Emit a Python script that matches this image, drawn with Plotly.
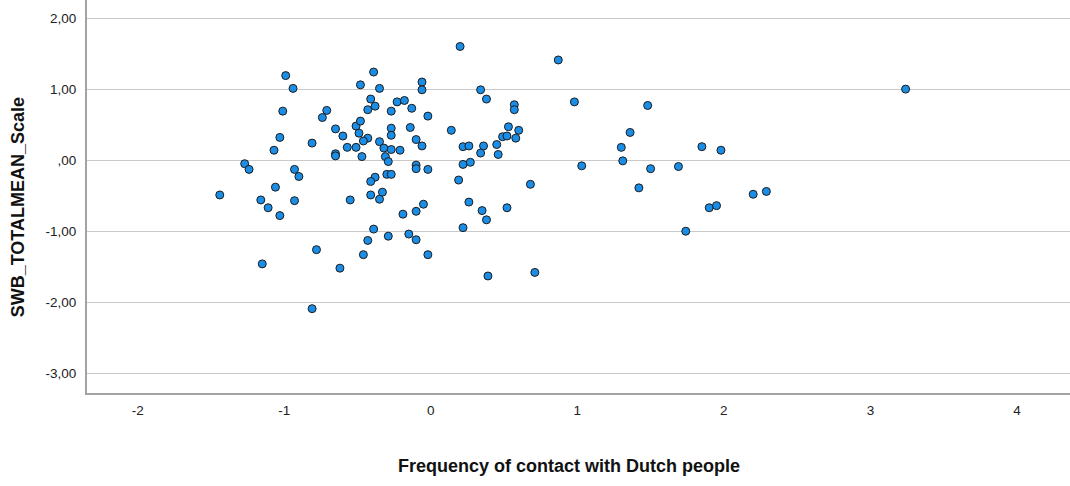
import plotly.graph_objects as go

# Standardised contact frequency (x) vs subjective well-being mean score (y)
contact_freq = [
    -0.99, -0.94, -1.01, -0.71, -0.74, -0.65, -0.60, -0.51, -1.03, -0.81,
    -1.07, -0.57, -0.51, -0.65, -0.65, -1.27, -1.24, -0.93, -0.90, -1.06,
    -1.44, -1.16, -1.11, -1.03, -0.93, -0.55, -0.78, -1.15, -0.62, -0.81,
    -0.39, -0.48, -0.35, -0.06, -0.06, -0.41, -0.38, -0.43, -0.23, -0.18,
    -0.27, -0.13, -0.02, -0.48, -0.27, -0.27, -0.14, 0.14, -0.49, -0.43,
    -0.46, -0.10, -0.06, -0.35, -0.32, -0.27, -0.21, -0.47, -0.31, 0.22,
    0.26, -0.29, -0.10, -0.10, -0.02, 0.22, 0.27, -0.38, -0.41, -0.30,
    -0.27, 0.19, -0.41, -0.33, -0.35, -0.05, -0.10, -0.19, 0.26, -0.39,
    -0.29, -0.15, -0.10, -0.43, 0.22, -0.46, -0.02,
    0.20, 0.87, 0.34, 0.38, 0.57, 0.57, 0.98, 0.53, 0.60, 0.49,
    0.52, 0.58, 0.45, 0.36, 0.34, 0.46, 1.03, 0.68, 0.35, 0.38,
    0.52, 0.39, 0.71, 1.48, 1.36, 1.30, 1.85, 1.98, 1.31, 1.50,
    1.69, 1.42, 1.90, 1.95, 1.74, 2.20, 2.29, 3.24,
]
swb_mean = [
    1.19, 1.01, 0.69, 0.70, 0.60, 0.44, 0.34, 0.48, 0.32, 0.24,
    0.14, 0.18, 0.18, 0.09, 0.06, -0.05, -0.13, -0.13, -0.23, -0.38,
    -0.49, -0.56, -0.67, -0.78, -0.57, -0.56, -1.26, -1.46, -1.52, -2.09,
    1.24, 1.06, 1.01, 1.10, 0.99, 0.86, 0.76, 0.71, 0.82, 0.84,
    0.69, 0.73, 0.62, 0.55, 0.45, 0.35, 0.46, 0.42, 0.38, 0.31,
    0.27, 0.29, 0.20, 0.26, 0.17, 0.15, 0.14, 0.05, 0.05, 0.19,
    0.20, -0.02, -0.07, -0.12, -0.13, -0.06, -0.03, -0.24, -0.30, -0.20,
    -0.20, -0.28, -0.49, -0.45, -0.55, -0.62, -0.72, -0.76, -0.59, -0.97,
    -1.07, -1.04, -1.12, -1.13, -0.95, -1.33, -1.33,
    1.60, 1.41, 0.99, 0.86, 0.78, 0.71, 0.82, 0.47, 0.42, 0.33,
    0.34, 0.31, 0.22, 0.20, 0.10, 0.08, -0.08, -0.34, -0.71, -0.84,
    -0.67, -1.63, -1.58, 0.77, 0.39, 0.18, 0.19, 0.14, -0.01, -0.12,
    -0.09, -0.39, -0.67, -0.64, -1.00, -0.48, -0.44, 1.00,
]

y_tick_vals = [2, 1, 0, -1, -2, -3]
y_tick_text = ["2,00", "1,00", ",00", "-1,00", "-2,00", "-3,00"]
x_tick_vals = [-2, -1, 0, 1, 2, 3, 4]
x_tick_text = ["-2", "-1", "0", "1", "2", "3", "4"]

x_title = "Frequency of contact with Dutch people"
y_title = "SWB_TOTALMEAN_Scale"

font_family = "Liberation Sans, Arial, sans-serif"

fig = go.Figure(
    go.Scatter(
        x=contact_freq,
        y=swb_mean,
        mode="markers",
        marker=dict(
            size=8,
            color="#1a8de6",
            line=dict(color="#1c1c1c", width=1),
        ),
        hoverinfo="x+y",
    )
)

fig.update_layout(
    width=1070,
    height=486,
    margin=dict(l=87, r=0, t=0, b=93),
    paper_bgcolor="white",
    plot_bgcolor="white",
    showlegend=False,
    font=dict(family=font_family, color="#222222"),
    xaxis=dict(
        range=[-2.346, 4.362],
        tickvals=x_tick_vals,
        ticktext=x_tick_text,
        tickfont=dict(size=13.5, color="#222222"),
        ticks="",
        ticklabelstandoff=4,
        showgrid=False,
        zeroline=False,
        showline=True,
        linecolor="#a3a3a3",
        linewidth=2,
    ),
    yaxis=dict(
        range=[-3.277, 2.254],
        tickvals=y_tick_vals,
        ticktext=y_tick_text,
        tickfont=dict(size=13.5, color="#222222"),
        ticks="",
        ticklabelstandoff=6,
        showgrid=True,
        gridcolor="#c9c9c9",
        gridwidth=1.3,
        zeroline=False,
        showline=True,
        linecolor="#a3a3a3",
        linewidth=2,
    ),
    annotations=[
        dict(
            text="<b>" + x_title + "</b>",
            xref="paper", yref="paper",
            x=0.490, y=-0.186,
            xanchor="center", yanchor="middle",
            showarrow=False,
            font=dict(size=18, color="#111111", family=font_family),
        ),
        dict(
            text="<b>" + y_title + "</b>",
            xref="paper", yref="paper",
            x=-0.070, y=0.473,
            xanchor="center", yanchor="middle",
            textangle=-90,
            showarrow=False,
            font=dict(size=18, color="#111111", family=font_family),
        ),
    ],
)

fig.write_html("out.html")
